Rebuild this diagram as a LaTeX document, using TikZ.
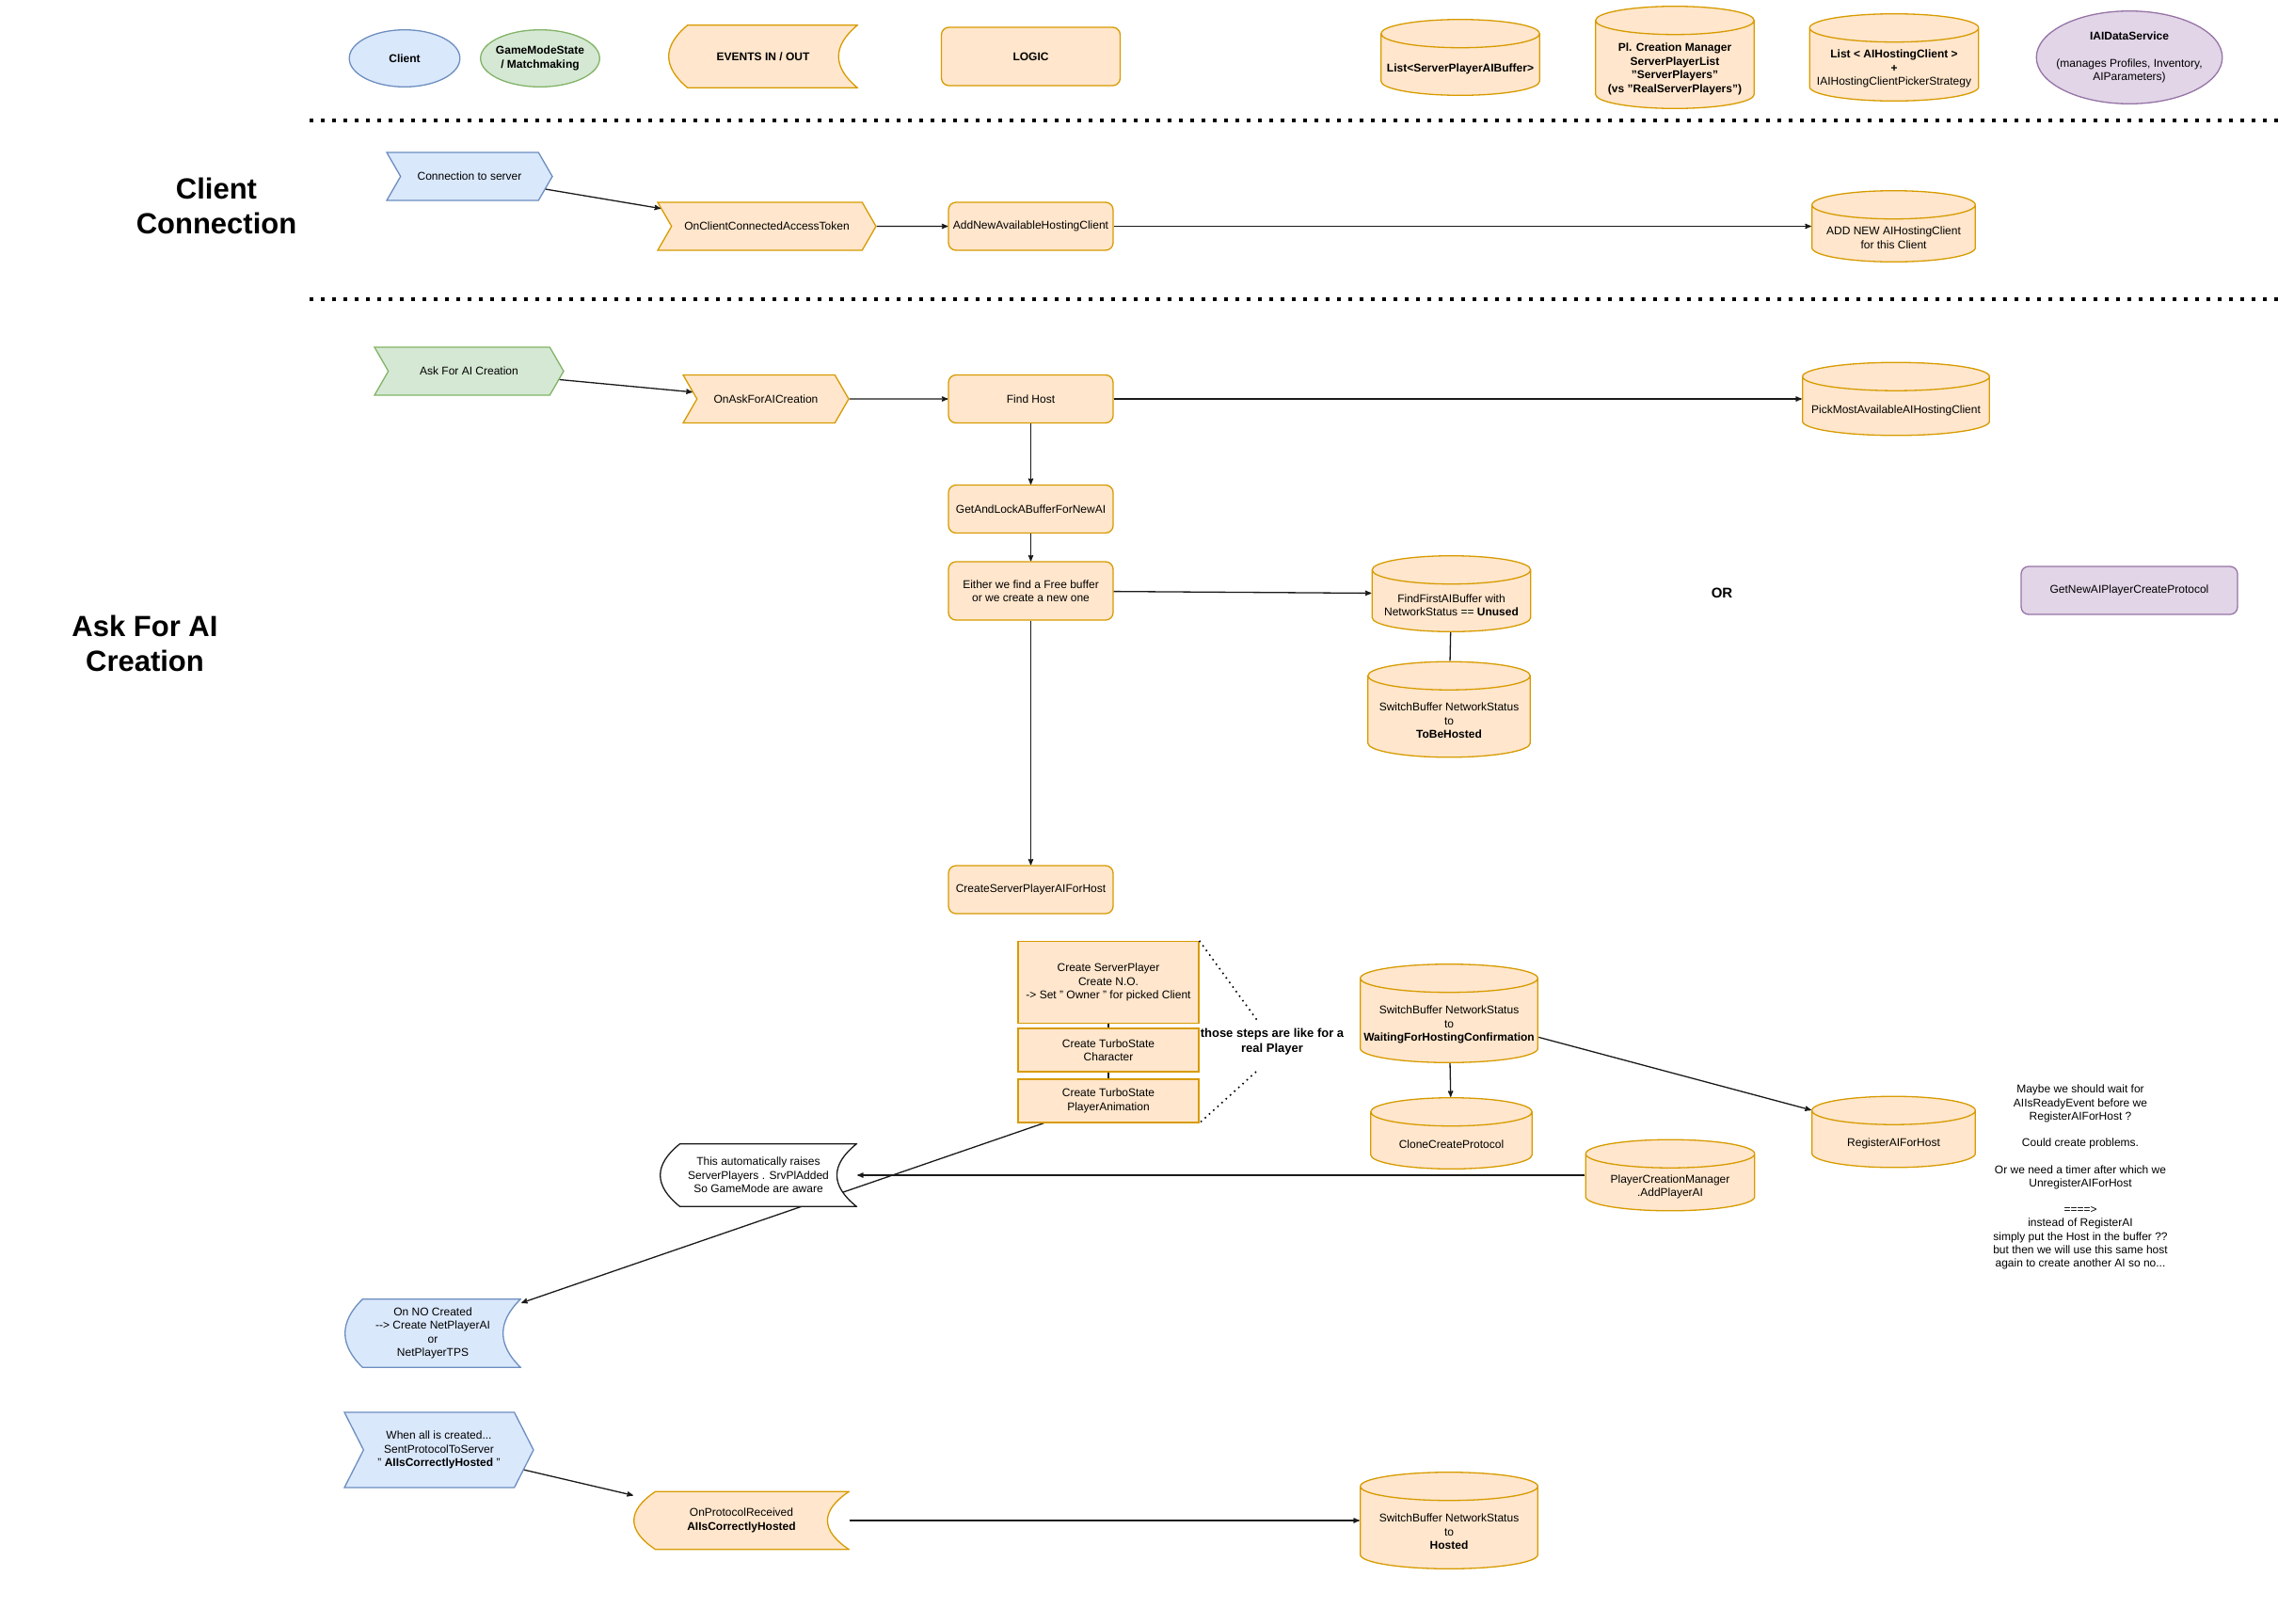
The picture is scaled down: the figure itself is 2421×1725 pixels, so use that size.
\documentclass[tikz,border=0pt]{standalone}
\usepackage{fontspec}
\setmainfont{Liberation Sans}
\usepackage{tikz}
\usetikzlibrary{arrows,calc,shapes.symbols,backgrounds}

\definecolor{orgfill}{HTML}{FFE6CC}
\definecolor{orgline}{HTML}{D79B00}
\definecolor{bluefill}{HTML}{DAE8FC}
\definecolor{blueline}{HTML}{6C8EBF}
\definecolor{grnfill}{HTML}{D5E8D4}
\definecolor{grnline}{HTML}{82B366}
\definecolor{purfill}{HTML}{E1D5E7}
\definecolor{purline}{HTML}{9673A6}
\definecolor{edgegray}{HTML}{1A1A1A}

% pushes cylinder text below the cap
\newcommand{\cyltop}{\rule{0pt}{33pt}}

\begin{document}
\begin{tikzpicture}[x=1pt,y=-1pt,>=stealth',
    font=\fontsize{12}{14.5}\selectfont,
    chevron/.style 2 args={signal,signal to=east,signal from=west,
      signal pointer angle=120,fill=#1,draw=#2,line width=1.3pt,
      align=center,inner sep=2pt},
    tape/.style 2 args={rectangle,align=center,inner sep=2pt,
      path picture={
        \path[fill=#1,draw=#2,line width=1.3pt]
          let \p1=([shift={(0.7pt,0.7pt)}]path picture bounding box.south west),
              \p2=([shift={(-0.7pt,-0.7pt)}]path picture bounding box.north east),
              \n1={0.1*(\x2-\x1)},\n2={0.5*(\y1+\y2)} in
          ({\x1+\n1},\y2) -- (\x2,\y2)
          .. controls ({\x2-1.333*\n1},{\y2+0.667*(\n2-\y2)})
                  and ({\x2-1.333*\n1},{\y1+0.667*(\n2-\y1)}) .. (\x2,\y1)
          -- ({\x1+\n1},\y1)
          .. controls ({\x1-0.333*\n1},{\y1+0.667*(\n2-\y1)})
                  and ({\x1-0.333*\n1},{\y2+0.667*(\n2-\y2)}) .. ({\x1+\n1},\y2)
          -- cycle;}},
    oval/.style 2 args={rectangle,align=center,inner sep=2pt,
      path picture={
        \path[fill=#1,draw=#2,line width=1.3pt]
          let \p1=(path picture bounding box.south west),
              \p2=(path picture bounding box.north east) in
          (path picture bounding box.center) ellipse
            [x radius={0.5*(\x2-\x1)-0.7pt},y radius={0.5*(\y2-\y1)-0.7pt}];}},
    db/.style={rectangle,align=center,inner sep=1pt,
      path picture={
        \path[fill=orgfill,draw=orgline,line width=1.3pt]
          let \p1=([shift={(0.7pt,0.7pt)}]path picture bounding box.south west),
              \p2=([shift={(-0.7pt,-0.7pt)}]path picture bounding box.north east),
              \n1={0.5*(\x2-\x1)} in
          (\x1,{\y2-15pt}) -- (\x1,{\y1+15pt})
          arc[start angle=180,end angle=360,x radius=\n1,y radius=15pt]
          -- (\x2,{\y2-15pt})
          arc[start angle=0,end angle=180,x radius=\n1,y radius=15pt] -- cycle
          (\x1,{\y2-15pt})
          arc[start angle=180,end angle=360,x radius=\n1,y radius=15pt];}},
    flow/.style={->,draw=edgegray,line width=1.3pt},
    link/.style={draw=edgegray,line width=1.3pt},
    sep/.style={line width=4pt,dash pattern=on 4pt off 8pt},
    noteline/.style={line width=1.6pt,dash pattern=on 1.6pt off 4.4pt}]
  \tikzstyle{logic}=[rectangle,rounded corners=8pt,align=center,fill=orgfill,
    draw=orgline,line width=1.3pt,minimum width=175pt,minimum height=51pt,inner sep=2pt]
  \tikzstyle{stepbox}=[rectangle,align=center,fill=orgfill,draw=orgline,
    line width=1.3pt,minimum width=192pt,minimum height=46pt,inner sep=2pt]
  \tikzstyle{boldtext}=[font=\fontsize{12}{14.5}\selectfont\bfseries]
  \tikzstyle{sectiontitle}=[align=center,font=\fontsize{31}{37}\selectfont\bfseries]

  \useasboundingbox (0,0) rectangle (2421,1725);

  % legend
  \node[oval={bluefill}{blueline},boldtext,minimum width=119pt,minimum height=62pt] (lclient) at (430,62) {Client};
  \node[oval={grnfill}{grnline},boldtext,minimum width=128pt,minimum height=62pt] (lgame) at (574,62) {GameModeState\\/ Matchmaking};
  \node[tape={orgfill}{orgline},boldtext,minimum width=202pt,minimum height=68pt] (levents) at (811,60) {EVENTS IN / OUT};
  \node[logic,boldtext,minimum width=190pt,minimum height=62pt] (llogic) at (1095.5,60) {LOGIC};
  \node[db,boldtext,minimum width=170pt,minimum height=82pt] (lbuffer) at (1552,61) {\cyltop List<ServerPlayerAIBuffer>};
  \node[db,boldtext,minimum width=170pt,minimum height=110pt] (lpcm) at (1780,61)
    {\cyltop Pl. Creation Manager\\ServerPlayerList\\"ServerPlayers"\\(vs "RealServerPlayers")};
  \node[db,minimum width=181pt,minimum height=94pt] (lhosting) at (2013,61)
    {\cyltop\textbf{List < AIHostingClient >}\\\textbf{+}\\IAIHostingClientPickerStrategy};
  \node[oval={purfill}{purline},minimum width=199pt,minimum height=100pt] (ldata) at (2263,61)
    {\textbf{IAIDataService}\\[14.5pt](manages Profiles, Inventory,\\AIParameters)};

  \draw[sep] (329,128) -- (2421,128);
  \draw[sep] (329,318) -- (2421,318);

  \node[sectiontitle] (tconn) at (230,219) {Client\\Connection};
  \node[sectiontitle] (task) at (154,684) {Ask For AI\\Creation};

  % client connection
  \node[chevron={bluefill}{blueline},minimum width=176pt,minimum height=51pt] (conn) at (499,187.5) {Connection to server};
  \node[chevron={orgfill}{orgline},minimum width=232pt,minimum height=51pt] (onconn) at (815,240.5) {OnClientConnectedAccessToken};
  \node[logic] (addhost) at (1095.5,240.5) {AddNewAvailableHostingClient};
  \node[db,minimum width=175pt,minimum height=77pt] (addcyl) at (2012.5,240.5) {\cyltop ADD NEW AIHostingClient\\for this Client};

  % ask for AI creation
  \node[chevron={grnfill}{grnline},minimum width=201pt,minimum height=51pt] (ask) at (498.5,394.5) {Ask For AI Creation};
  \node[chevron={orgfill}{orgline},minimum width=176pt,minimum height=51pt] (onask) at (814,424) {OnAskForAICreation};
  \node[logic] (findhost) at (1095.5,424) {Find Host};
  \node[db,minimum width=200pt,minimum height=79pt] (pick) at (2015,424) {\cyltop PickMostAvailableAIHostingClient};
  \node[logic] (getlock) at (1095.5,541) {GetAndLockABufferForNewAI};
  \node[logic,minimum height=62pt] (either) at (1095.5,628) {Either we find a Free buffer\\or we create a new one};
  \node[db,minimum width=170pt,minimum height=82pt] (findfree) at (1542.5,631) {\cyltop FindFirstAIBuffer with\\NetworkStatus == \textbf{Unused}};
  \node[font=\fontsize{15}{18}\selectfont\bfseries] (orlbl) at (1830,630) {OR};
  \node[logic,fill=purfill,draw=purline,minimum width=230pt] (newproto) at (2263,627.5) {GetNewAIPlayerCreateProtocol};
  \node[db,minimum width=174pt,minimum height=103pt] (tobe) at (1540,754) {\cyltop SwitchBuffer NetworkStatus\\to\\\textbf{ToBeHosted}};
  \node[logic] (createsp) at (1095.5,945.5) {CreateServerPlayerAIForHost};

  \node[stepbox,minimum height=87pt] (stepA) at (1178,1044) {Create ServerPlayer\\Create N.O.\\-> Set " Owner " for picked Client};
  \node[stepbox] (stepB) at (1178,1116) {Create TurboState\\Character};
  \node[stepbox] (stepC) at (1178,1170) {Create TurboState\\PlayerAnimation};
  \node[align=center,inner ysep=6pt,font=\fontsize{13}{15.5}\selectfont\bfseries] (steps) at (1352,1107) {those steps are like for a\\real Player};

  \node[db,minimum width=190pt,minimum height=106pt] (waiting) at (1540,1077) {\cyltop SwitchBuffer NetworkStatus\\to\\\textbf{WaitingForHostingConfirmation}};
  \node[db,minimum width=173pt,minimum height=77pt] (clone) at (1542.5,1204.5) {\cyltop CloneCreateProtocol};
  \node[db,minimum width=175pt,minimum height=77pt] (register) at (2012.5,1203) {\cyltop RegisterAIForHost};
  \node[db,minimum width=181pt,minimum height=77pt] (pcm) at (1775,1249) {\cyltop PlayerCreationManager\\.AddPlayerAI};
  \node[align=center,font=\fontsize{12}{14.2}\selectfont] (memo) at (2211,1251)
    {Maybe we should wait for\\AIIsReadyEvent before we\\RegisterAIForHost ?\\[14.2pt]Could create problems.\\[14.2pt]Or we need a timer after which we\\UnregisterAIForHost\\[14.2pt]====>\\instead of RegisterAI\\simply put the Host in the buffer ??\\but then we will use this same host\\again to create another AI so no...};

  \node[tape={white}{edgegray},minimum width=210pt,minimum height=68pt] (raise) at (806,1249) {This automatically raises\\ServerPlayers . SrvPlAdded\\So GameMode are aware};
  \node[tape={bluefill}{blueline},minimum width=188pt,minimum height=74pt] (onno) at (460,1417) {On NO Created\\-{}-> Create NetPlayerAI\\or\\NetPlayerTPS};
  \node[chevron={bluefill}{blueline},signal pointer angle=126,minimum width=201pt,minimum height=80pt] (whenall) at (466.5,1541)
    {When all is created...\\SentProtocolToServer\\" \textbf{AIIsCorrectlyHosted} "};
  \node[tape={orgfill}{orgline},minimum width=230pt,minimum height=63pt] (onproto) at (788,1616) {OnProtocolReceived\\\textbf{AIIsCorrectlyHosted}};
  \node[db,minimum width=190pt,minimum height=104pt] (hosted) at (1540,1616) {\cyltop SwitchBuffer NetworkStatus\\to\\\textbf{Hosted}};

  \path[flow] (conn) edge (onconn)
        (onconn) edge (addhost)
        (addhost) edge (addcyl)
        (ask) edge (onask)
        (onask) edge (findhost)
        (findhost) edge (pick)
        (findhost) edge (getlock)
        (getlock) edge (either)
        (either) edge (findfree)
        (either) edge (createsp)
        (waiting) edge (clone)
        (waiting) edge (register)
        (pcm) edge (raise)
        (whenall) edge (onproto)
        (onproto) edge (hosted)
  ; %end path
  \path[link] (findfree) edge (tobe)
        (stepA) edge (stepB)
        (stepB) edge (stepC);
  \draw[noteline] (stepA.north east) -- ([xshift=-14pt]steps.north);
  \draw[noteline] ([xshift=-17pt,yshift=-12pt]steps.south) -- (stepC.south east);

  % runs behind the white tape
  \begin{pgfonlayer}{background}
    \path[flow] (stepC) edge (onno);
  \end{pgfonlayer}

\end{tikzpicture}
\end{document}
